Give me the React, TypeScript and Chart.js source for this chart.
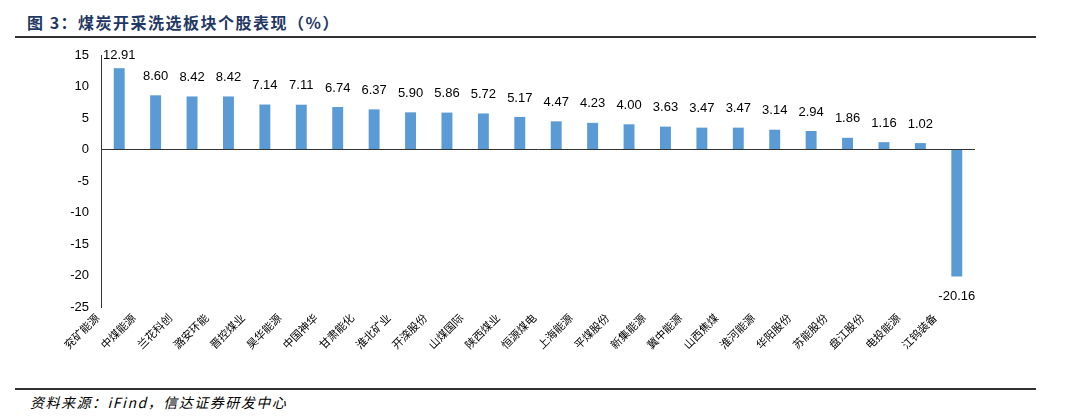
import React, { useEffect, useRef } from "react";
import { Chart, registerables } from "chart.js";

Chart.register(...registerables);

const categories = [
  "兖矿能源", "中煤能源", "兰花科创", "潞安环能", "晋控煤业", "昊华能源",
  "中国神华", "甘肃能化", "淮北矿业", "开滦股份", "山煤国际", "陕西煤业",
  "恒源煤电", "上海能源", "平煤股份", "新集能源", "冀中能源", "山西焦煤",
  "淮河能源", "华阳股份", "苏能股份", "盘江股份", "电投能源", "江钨装备",
];
const values = [
  12.91, 8.6, 8.42, 8.42, 7.14, 7.11, 6.74, 6.37, 5.9, 5.86, 5.72, 5.17,
  4.47, 4.23, 4.0, 3.63, 3.47, 3.47, 3.14, 2.94, 1.86, 1.16, 1.02, -20.16,
];
const yMin = -25;
const yMax = 15;
const yStep = 5;

const titleText = "图 3：煤炭开采洗选板块个股表现（%）";
const sourceText = "资料来源：iFind，信达证券研发中心";

const valueLabels = {
  id: "valueLabels",
  afterDatasetsDraw(chart: any) {
    const { ctx, chartArea } = chart;
    const meta = chart.getDatasetMeta(0);
    ctx.save();
    ctx.font = "13px 'Liberation Sans', Arial, sans-serif";
    ctx.fillStyle = "#000";
    ctx.textAlign = "center";
    ctx.textBaseline = "middle";
    meta.data.forEach((bar: any, i: number) => {
      const v = values[i];
      const txt = v.toFixed(2);
      let y;
      if (v >= 0) {
        y = Math.max(bar.y - 19, chartArea.top);
      } else {
        y = bar.y + 20;
      }
      ctx.fillText(txt, bar.x, y);
    });
    ctx.restore();
  },
};

export default function App() {
  const ref = useRef<HTMLCanvasElement>(null);
  useEffect(() => {
    if (!ref.current) return;
    const chart = new Chart(ref.current, {
      type: "bar",
      data: {
        labels: categories,
        datasets: [
          {
            data: values,
            backgroundColor: "#5b9bd5",
            borderWidth: 0,
            barPercentage: 0.3,
            categoryPercentage: 1,
          },
        ],
      },
      options: {
        responsive: false,
        animation: false,
        layout: { padding: { top: 15, right: 105, left: 0, bottom: 0 } },
        plugins: { legend: { display: false }, tooltip: { enabled: false } },
        scales: {
          x: {
            grid: { display: false, drawTicks: false },
            border: { display: false },
            ticks: {
              autoSkip: false,
              maxRotation: 45,
              minRotation: 45,
              padding: 4,
              labelOffset: -22,
              color: "#000",
              font: { family: "'Noto Sans CJK SC', sans-serif", size: 11 },
            },
            afterFit(scale: any) {
              scale.height = 78;
              scale.paddingLeft = 0;
              scale.paddingRight = 0;
            },
          },
          y: {
            min: yMin,
            max: yMax,
            z: 1,
            ticks: {
              stepSize: yStep,
              padding: 12,
              color: "#000",
              font: { family: "'Liberation Sans', Arial, sans-serif", size: 13 },
            },
            grid: {
              drawTicks: false,
              color: (c: any) => (c.tick && c.tick.value === 0 ? "#333" : "rgba(0,0,0,0)"),
              lineWidth: 1,
            },
            border: { display: true, color: "#333", width: 1 },
            afterFit(scale: any) {
              scale.width = 101;
              scale.paddingTop = 0;
              scale.paddingBottom = 0;
            },
          },
        },
      },
      plugins: [valueLabels],
    } as any);
    return () => chart.destroy();
  }, []);

  return (
    <div
      style={{
        position: "fixed",
        left: 0,
        top: 0,
        width: 1080,
        height: 419,
        background: "#fff",
        overflow: "hidden",
      }}
    >
      <div
        style={{
          position: "absolute",
          left: 27,
          top: 11,
          fontFamily: "'Noto Sans CJK SC', sans-serif",
          fontWeight: 700,
          fontSize: 16,
          lineHeight: "22px",
          color: "#1f3864",
          whiteSpace: "nowrap",
          letterSpacing: 1.5,
        }}
      >
        {titleText}
      </div>
      <div
        style={{
          position: "absolute",
          left: 15,
          top: 36,
          width: 1021,
          height: 2,
          background: "#333",
        }}
      />
      <div style={{ position: "absolute", left: 0, top: 40, width: 1080, height: 345 }}>
        <canvas ref={ref} width={1080} height={345} style={{ width: 1080, height: 345, display: "block" }} />
      </div>
      <div
        style={{
          position: "absolute",
          left: 15,
          top: 388,
          width: 1021,
          height: 2,
          background: "#333",
        }}
      />
      <div
        style={{
          position: "absolute",
          left: 30,
          top: 392,
          fontFamily: "'Noto Sans CJK SC', sans-serif",
          fontStyle: "italic",
          fontSize: 14,
          lineHeight: "20px",
          color: "#000",
          whiteSpace: "nowrap",
          letterSpacing: 1.5,
        }}
      >
        {sourceText}
      </div>
    </div>
  );
}
